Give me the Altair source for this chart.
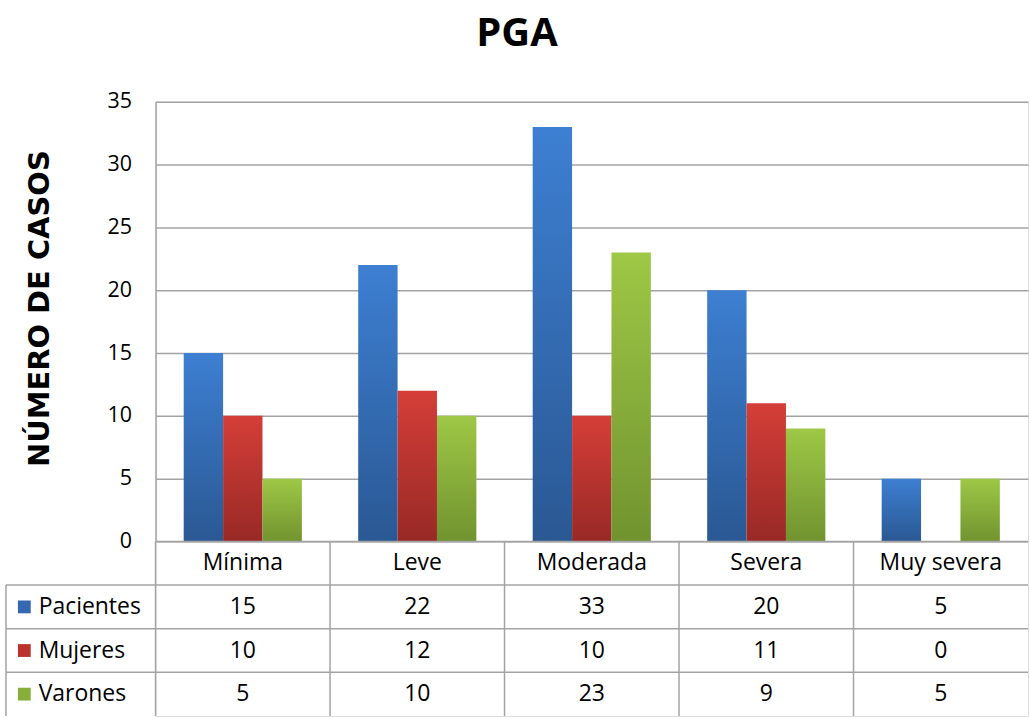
import altair as alt
import pandas as pd

# ---------------- data ----------------
categories = ["Mínima", "Leve", "Moderada", "Severa", "Muy severa"]
series_names = ["Pacientes", "Mujeres", "Varones"]
pacientes = [15, 22, 33, 20, 5]
mujeres = [10, 12, 10, 11, 0]
varones = [5, 10, 23, 9, 5]
y_ticks = [0, 5, 10, 15, 20, 25, 30, 35]

series_values = {"Pacientes": pacientes, "Mujeres": mujeres, "Varones": varones}

# ---------------- styles ----------------
FONT = "Open Sans"
GRID = "#A3A3A3"
gradients = {
    "Pacientes": ("#3D7FD2", "#2A5893"),
    "Mujeres": ("#D53E38", "#982926"),
    "Varones": ("#9EC846", "#71932F"),
}
solid = {"Pacientes": "#3568B0", "Mujeres": "#BA322E", "Varones": "#87AE3A"}

PLOT_W = 875
PLOT_H = 441
TABLE_H = 175
LABEL_COL = 150 / 175      # width of label column in column units
SQUARE_X = -0.752
LABEL_X = -0.67
TABLE_FS = 23

# ---------------- bar chart ----------------
rows = []
for s in series_names:
    for c, v in zip(categories, series_values[s]):
        rows.append({"categoria": c, "serie": s, "valor": v})
bars_df = pd.DataFrame(rows)

base = alt.Chart(bars_df).encode(
    x=alt.X("categoria:N", sort=categories,
            scale=alt.Scale(paddingInner=0, paddingOuter=0), axis=None),
    xOffset=alt.XOffset("serie:N", sort=series_names,
                        scale=alt.Scale(paddingInner=0, paddingOuter=0.715)),
    y=alt.Y("valor:Q", scale=alt.Scale(domain=[0, 35], nice=False),
            axis=alt.Axis(values=y_ticks, title="NÚMERO DE CASOS",
                          titleFont="DejaVu Sans", titleFontSize=29,
                          titleFontWeight="bold", titleColor="black",
                          titlePadding=53, titleY=207,
                          labelFont=FONT, labelFontSize=21.5, labelColor="black",
                          labelPadding=24, tickSize=0,
                          grid=True, gridColor=GRID, gridWidth=1.5,
                          domainColor=GRID, domainWidth=1.5)),
)

layers = []
for s in series_names:
    top, bottom = gradients[s]
    layers.append(
        base.transform_filter(alt.datum.serie == s).mark_bar(
            color=alt.Gradient(gradient="linear",
                               stops=[alt.GradientStop(color=top, offset=0),
                                      alt.GradientStop(color=bottom, offset=1)],
                               x1=0, x2=0, y1=0, y2=1)
        )
    )
bars = alt.layer(*layers).properties(width=PLOT_W, height=PLOT_H)

# ---------------- data table ----------------
cell_rows = []
for i, c in enumerate(categories):
    cell_rows.append({"txt": c, "cx": i + 0.5, "cy": 0.5})
for r, s in enumerate(series_names):
    for i, v in enumerate(series_values[s]):
        cell_rows.append({"txt": str(v), "cx": i + 0.5, "cy": r + 1.5})
cells_df = pd.DataFrame(cell_rows)

label_df = pd.DataFrame({
    "serie": series_names,
    "lx": [LABEL_X] * 3,
    "sx": [SQUARE_X] * 3,
    "cy": [r + 1.5 for r in range(3)],
})

rule_rows = [{"x": 0, "x2": len(categories), "y": 0, "y2": 0}]
for r in range(1, 4):
    rule_rows.append({"x": -LABEL_COL, "x2": len(categories), "y": r, "y2": r})
for i in range(len(categories)):
    rule_rows.append({"x": i, "x2": i, "y": 0, "y2": 4})
rule_rows.append({"x": -LABEL_COL, "x2": -LABEL_COL, "y": 1, "y2": 4})
rules_df = pd.DataFrame(rule_rows)

xs = alt.Scale(domain=[0, len(categories)], nice=False, zero=False)
ys = alt.Scale(domain=[4, 0], nice=False, zero=False)

t_rules = alt.Chart(rules_df).mark_rule(color=GRID, strokeWidth=1.5).encode(
    x=alt.X("x:Q", scale=xs, axis=None), x2="x2:Q",
    y=alt.Y("y:Q", scale=ys, axis=None), y2="y2:Q",
)
t_cells = alt.Chart(cells_df).mark_text(
    font=FONT, fontSize=TABLE_FS, color="black", align="center", baseline="middle"
).encode(
    x=alt.X("cx:Q", scale=xs, axis=None),
    y=alt.Y("cy:Q", scale=ys, axis=None),
    text="txt:N",
)
t_labels = alt.Chart(label_df).mark_text(
    font=FONT, fontSize=TABLE_FS, color="black", align="left", baseline="middle"
).encode(
    x=alt.X("lx:Q", scale=xs, axis=None),
    y=alt.Y("cy:Q", scale=ys, axis=None),
    text="serie:N",
)
t_squares = alt.Chart(label_df).mark_square(size=165, opacity=1).encode(
    x=alt.X("sx:Q", scale=xs, axis=None),
    y=alt.Y("cy:Q", scale=ys, axis=None),
    color=alt.Color("serie:N", sort=series_names,
                    scale=alt.Scale(domain=series_names,
                                    range=[solid[s] for s in series_names]),
                    legend=None),
)
table = alt.layer(t_rules, t_cells, t_labels, t_squares).properties(
    width=PLOT_W, height=TABLE_H)

chart = alt.vconcat(bars, table, spacing=0, bounds="flush").properties(
    title=alt.TitleParams("PGA", font=FONT, fontSize=40, fontWeight="bold",
                          color="black", anchor="middle", offset=36),
    padding={"left": 4, "top": 13, "right": 0, "bottom": 0},
).resolve_scale(x="independent", y="independent").configure_view(
    stroke=None
).configure(background="white")

chart.save("out.html", embed_options={"renderer": "svg", "actions": False})
